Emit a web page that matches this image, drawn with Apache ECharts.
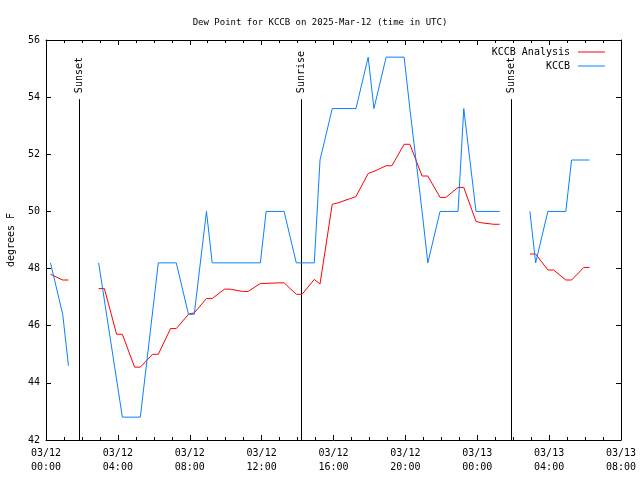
<!DOCTYPE html>
<html>
<head>
<meta charset="utf-8">
<script src="https://cdn.jsdelivr.net/npm/echarts@6/dist/echarts.min.js"></script>
<style>
html,body{margin:0;padding:0;background:#fff;}
#chart{width:640px;height:480px;}
</style>
</head>
<body>
<div id="chart"></div>
<script>
// Hours since 2025-03-12 00:00 UTC
const analysisTimes = [0.25,0.93,1.25,2.0,2.93,3.25,3.93,4.25,4.93,5.25,5.93,6.25,6.93,7.25,7.93,8.25,8.93,9.25,9.93,10.25,10.93,11.25,11.93,12.25,12.93,13.25,13.93,14.25,14.93,15.25,15.93,16.25,16.93,17.25,17.93,18.25,18.93,19.25,19.93,20.25,20.93,21.25,21.93,22.25,22.93,23.25,23.93,24.25,24.93,25.25,26.0,26.93,27.25,27.93,28.25,28.93,29.25,29.93,30.25];
const analysisValues = [47.8,47.6,47.6,null,47.3,47.3,45.7,45.7,44.55,44.55,45.0,45.0,45.9,45.9,46.4,46.45,46.95,46.95,47.28,47.28,47.2,47.2,47.48,47.48,47.5,47.5,47.1,47.1,47.62,47.46,50.25,50.3,50.45,50.52,51.33,51.4,51.6,51.6,52.35,52.35,51.24,51.24,50.49,50.49,50.84,50.84,49.65,49.6,49.55,49.55,null,48.51,48.51,47.95,47.95,47.6,47.6,48.04,48.04];

const obsTimes = [0.25,0.93,1.25,2.0,2.93,4.25,5.25,6.25,7.25,7.93,8.25,8.93,9.25,11.93,12.25,13.25,13.93,14.93,15.25,15.93,17.25,17.93,18.25,18.93,19.93,20.25,20.93,21.25,21.93,22.93,23.25,23.93,25.25,26.0,26.93,27.25,27.93,28.93,29.25,30.25];
const obsValues = [48.2,46.4,44.6,null,48.2,42.8,42.8,48.2,48.2,46.4,46.4,50.0,48.2,48.2,50.0,50.0,48.2,48.2,51.8,53.6,53.6,55.4,53.6,55.4,55.4,53.6,50.0,48.2,50.0,50.0,53.6,50.0,50.0,null,50.0,48.2,50.0,50.0,51.8,51.8];

const sunTimes = [1.84, 14.17, 25.88];
const sunLabels = ['Sunset', 'Sunrise', 'Sunset'];
const sunLineTop = 53.93;

const seriesNames = ['KCCB Analysis', 'KCCB'];
const titleText = 'Dew Point for KCCB on 2025-Mar-12 (time in UTC)';
const yName = 'degrees F';
const xMin = 0, xMax = 32, xStep = 4;
const yMin = 42, yMax = 56, yStep = 2;
const startDay = 12;

const FONT = 'DejaVu Sans Mono';

function pairs(ts, vs){ return ts.map((t,i)=>[t, vs[i]]); }

function xLabel(v){
  const day = startDay + Math.floor(v/24);
  const hr = v % 24;
  return '03/' + String(day).padStart(2,'0') + '\n' + String(hr).padStart(2,'0') + ':00';
}

const chart = echarts.init(document.getElementById('chart'), null, {renderer:'canvas'});

const tickStyle = {color:'#000', width:1};
function xAxisDef(pos, showLabels){
  return {
    type:'value', min:xMin, max:xMax, interval:xStep, position:pos,
    axisLine:{show:true, onZero:false, lineStyle:tickStyle},
    axisTick:{show:true, inside:true, length:5, lineStyle:tickStyle},
    minorTick:{show:true, splitNumber:4, length:3, lineStyle:tickStyle},
    splitLine:{show:false},
    axisLabel:{show:showLabels, formatter:xLabel, fontFamily:FONT, fontSize:10, color:'#000', lineHeight:14, margin:6}
  };
}
function yAxisDef(pos, showLabels){
  const d = {
    type:'value', min:yMin, max:yMax, interval:yStep, position:pos,
    axisLine:{show:true, onZero:false, lineStyle:tickStyle},
    axisTick:{show:true, inside:true, length:5, lineStyle:tickStyle},
    splitLine:{show:false},
    axisLabel:{show:showLabels, fontFamily:FONT, fontSize:10, color:'#000', margin:6}
  };
  if (showLabels){
    d.name = yName; d.nameLocation='middle'; d.nameGap=30;
    d.nameTextStyle = {fontFamily:FONT, fontSize:10, color:'#000'};
  }
  return d;
}

const option = {
  animation:false,
  backgroundColor:'#fff',
  title:{text:titleText, left:'center', top:13, textStyle:{fontFamily:FONT, fontSize:9, fontWeight:'normal', color:'#000'}},
  grid:{left:46, right:19, top:40, bottom:40, containLabel:false, outerBoundsMode:'none'},
  legend:[
    {data:[seriesNames[0]], orient:'vertical', right:30, top:42, align:'right', itemWidth:27, itemHeight:1, icon:'rect',
     textStyle:{fontFamily:FONT, fontSize:10, color:'#000', padding:[0,3,0,0]}, selectedMode:false},
    {data:[seriesNames[1]], orient:'vertical', right:30, top:56, align:'right', itemWidth:27, itemHeight:1, icon:'rect',
     textStyle:{fontFamily:FONT, fontSize:10, color:'#000', padding:[0,3,0,0]}, selectedMode:false}
  ],
  xAxis:[xAxisDef('bottom', true), xAxisDef('top', false)],
  yAxis:[yAxisDef('left', true), yAxisDef('right', false)],
  series:[
    {
      type:'custom', name:'sun', silent:true,
      xAxisIndex:0, yAxisIndex:0,
      data: sunTimes.map((t,i)=>[t, sunLineTop, i]),
      encode:{x:0, y:1},
      renderItem:function(params, api){
        const t = api.value(0);
        const idx = api.value(2);
        const p0 = api.coord([t, yMin]);
        const p1 = api.coord([t, api.value(1)]);
        const x = Math.round(p0[0]) + 0.5;
        return {type:'group', children:[
          {type:'line', shape:{x1:x, y1:p0[1], x2:x, y2:p1[1]}, style:{stroke:'#000', lineWidth:1}},
          {type:'text', x:x, y:p1[1]-6, rotation:Math.PI/2,
           style:{text:sunLabels[idx], fontFamily:FONT, fontSize:10, fill:'#000', align:'left', verticalAlign:'middle'}}
        ]};
      }
    },
    {
      type:'line', name:seriesNames[0], data:pairs(analysisTimes, analysisValues),
      symbol:'none', connectNulls:false, lineStyle:{color:'#ff0000', width:1}, itemStyle:{color:'#ff0000'},
      emphasis:{disabled:true}
    },
    {
      type:'line', name:seriesNames[1], data:pairs(obsTimes, obsValues),
      symbol:'none', connectNulls:false, lineStyle:{color:'#0a80ff', width:1}, itemStyle:{color:'#0a80ff'},
      emphasis:{disabled:true}
    }
  ]
};
chart.setOption(option);
</script>
</body>
</html>
